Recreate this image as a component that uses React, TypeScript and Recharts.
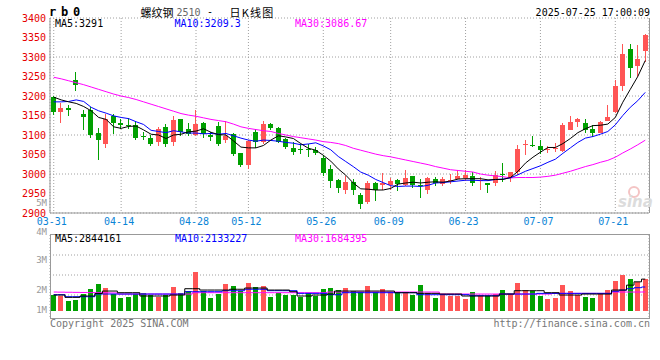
import React from 'react';
import { ComposedChart, Bar, Line, XAxis, YAxis, CartesianGrid } from 'recharts';

const MONO = '"DejaVu Sans Mono", monospace';
const UP = '#ff5555';
const DOWN = '#00a000';
const GRID = '#a0a0a0';

// trading days 2025-03-31 .. 2025-07-25
const dates = [
  '03-31', '04-01', '04-02', '04-03', '04-07', '04-08', '04-09', '04-10', '04-11', '04-14',
  '04-15', '04-16', '04-17', '04-18', '04-21', '04-22', '04-23', '04-24', '04-25', '04-28',
  '04-29', '04-30', '05-06', '05-07', '05-08', '05-09', '05-12', '05-13', '05-14', '05-15',
  '05-16', '05-19', '05-20', '05-21', '05-22', '05-23', '05-26', '05-27', '05-28', '05-29',
  '05-30', '06-03', '06-04', '06-05', '06-06', '06-09', '06-10', '06-11', '06-12', '06-13',
  '06-16', '06-17', '06-18', '06-19', '06-20', '06-23', '06-24', '06-25', '06-26', '06-27',
  '06-30', '07-01', '07-02', '07-03', '07-04', '07-07', '07-08', '07-09', '07-10', '07-11',
  '07-14', '07-15', '07-16', '07-17', '07-18', '07-21', '07-22', '07-23', '07-24', '07-25',
];

const opens = [
  3197, 3158, 3170, 3242, 3155, 3165, 3105, 3076, 3148, 3132,
  3126, 3125, 3098, 3092, 3082, 3120, 3082, 3140, 3115, 3101,
  3130, 3101, 3122, 3088, 3102, 3054, 3023, 3108, 3082, 3127,
  3119, 3089, 3066, 3064, 3065, 3061, 3041, 3013, 2984, 2959,
  2979, 2947, 2928, 2976, 2971, 2973, 2984, 2972, 2994, 2972,
  2960, 2986, 2975, 2983, 2988, 2989, 2994, 2981, 2977, 2977,
  3000, 2992, 3004, 3074, 3074, 3072, 3062, 3065, 3060, 3114,
  3133, 3132, 3116, 3104, 3136, 3159, 3225, 3320, 3276, 3316,
];
const highs = [
  3200, 3182, 3176, 3262, 3165, 3172, 3118, 3155, 3153, 3142,
  3143, 3135, 3108, 3100, 3120, 3127, 3148, 3140, 3132, 3164,
  3134, 3108, 3134, 3137, 3106, 3054, 3088, 3116, 3135, 3131,
  3121, 3093, 3081, 3077, 3077, 3070, 3050, 3022, 2986, 2994,
  2986, 2952, 2983, 2979, 3002, 2991, 2988, 3009, 2994, 2986,
  2993, 2992, 2993, 3001, 3010, 3010, 3004, 2993, 2978, 3008,
  3028, 3006, 3074, 3087, 3098, 3087, 3072, 3079, 3130, 3150,
  3144, 3142, 3125, 3136, 3177, 3242, 3333, 3333, 3331, 3359,
];
const lows = [
  3152, 3132, 3149, 3213, 3113, 3092, 3036, 3067, 3102, 3115,
  3115, 3086, 3086, 3072, 3071, 3069, 3073, 3098, 3097, 3098,
  3093, 3085, 3072, 3080, 3047, 3017, 3013, 3066, 3076, 3113,
  3079, 3064, 3049, 3051, 3044, 3050, 2996, 2965, 2951, 2950,
  2947, 2909, 2922, 2932, 2960, 2960, 2956, 2969, 2963, 2939,
  2949, 2969, 2969, 2975, 2986, 2983, 2969, 2959, 2952, 2969,
  2979, 2979, 2998, 3048, 3068, 3051, 3053, 3057, 3057, 3114,
  3121, 3106, 3095, 3104, 3136, 3157, 3214, 3247, 3250, 3288,
];
const closes = [
  3158, 3170, 3164, 3228, 3145, 3101, 3088, 3140, 3131, 3126,
  3124, 3092, 3094, 3076, 3115, 3076, 3138, 3107, 3102, 3129,
  3103, 3095, 3077, 3098, 3051, 3022, 3085, 3081, 3127, 3118,
  3081, 3070, 3057, 3062, 3062, 3055, 3003, 2981, 2965, 2979,
  2959, 2924, 2976, 2958, 2978, 2981, 2975, 2991, 2971, 2969,
  2990, 2978, 2986, 2985, 2994, 2998, 2977, 2984, 2973, 2997,
  2998, 3004, 3065, 3076, 3071, 3062, 3065, 3067, 3125, 3134,
  3140, 3113, 3106, 3133, 3147, 3226, 3308, 3273, 3295, 3357,
];

const ma5 = [
  3197, 3190, 3185, 3181, 3173, 3162, 3145, 3140, 3121, 3117,
  3122, 3123, 3113, 3102, 3100, 3091, 3100, 3102, 3108, 3110,
  3116, 3107, 3101, 3100, 3085, 3069, 3067, 3067, 3073, 3087,
  3098, 3095, 3091, 3078, 3066, 3061, 3048, 3033, 3013, 2997,
  2977, 2962, 2961, 2959, 2959, 2963, 2974, 2977, 2979, 2977,
  2979, 2980, 2979, 2982, 2987, 2988, 2988, 2988, 2985, 2986,
  2986, 2991, 3007, 3028, 3043, 3056, 3068, 3068, 3078, 3091,
  3106, 3116, 3124, 3125, 3128, 3145, 3184, 3217, 3250, 3291,
];
const ma10 = [
  3185, 3185, 3186, 3190, 3186, 3171, 3162, 3156, 3149, 3145,
  3142, 3134, 3127, 3112, 3109, 3106, 3111, 3108, 3105, 3105,
  3103, 3104, 3102, 3104, 3098, 3092, 3087, 3084, 3087, 3086,
  3084, 3081, 3079, 3075, 3077, 3080, 3072, 3062, 3045, 3032,
  3019, 3005, 2997, 2986, 2978, 2970, 2968, 2969, 2969, 2968,
  2971, 2977, 2978, 2980, 2982, 2984, 2984, 2983, 2983, 2986,
  2987, 2990, 2998, 3007, 3014, 3021, 3030, 3038, 3053, 3067,
  3081, 3092, 3096, 3102, 3109, 3126, 3150, 3171, 3188, 3209.3,
];
const ma30 = [
  3248, 3244, 3239, 3234, 3229, 3223, 3217, 3211, 3205, 3200,
  3196, 3191, 3185, 3179, 3173, 3167, 3161, 3155, 3151, 3148,
  3144, 3140, 3137, 3134, 3128, 3121, 3117, 3114, 3111, 3109,
  3104, 3100, 3096, 3093, 3090, 3087, 3083, 3081, 3078, 3073,
  3066, 3061, 3056, 3051, 3047, 3044, 3040, 3036, 3032, 3028,
  3024, 3019, 3015, 3011, 3009, 3007, 3005, 3000, 2997, 2995,
  2993, 2990, 2991, 2991, 2991, 2992, 2994, 2997, 3002, 3007,
  3013, 3019, 3024, 3030, 3035, 3043, 3054, 3064, 3075, 3086.67,
];

// volume, millions
const volumes = [
  1.41, 1.32, 0.87, 0.96, 1.5, 1.95, 2.4, 2.04, 1.5, 1.17,
  1.23, 1.5, 1.59, 1.38, 1.26, 1.41, 2.13, 1.62, 1.77, 3.48,
  1.8, 1.17, 1.5, 2.43, 2.22, 1.8, 2.52, 2.13, 2.22, 1.26,
  1.56, 1.41, 1.41, 1.2, 1.62, 1.35, 1.95, 2.07, 1.86, 2.04,
  1.77, 1.71, 2.22, 1.71, 1.95, 1.71, 1.62, 1.62, 1.41, 2.32,
  1.56, 1.17, 1.5, 1.32, 1.32, 1.05, 1.68, 1.32, 1.32, 1.5,
  1.86, 1.5, 2.52, 1.86, 1.77, 1.32, 1.05, 1.17, 2.32, 1.77,
  1.42, 1.22, 1.12, 1.52, 1.85, 2.7, 3.25, 2.85, 2.55, 2.87,
];
const volMa5 = [
  1.41, 1.41, 1.2, 1.2, 1.32, 1.32, 1.55, 1.77, 1.77, 1.62,
  1.62, 1.62, 1.32, 1.32, 1.32, 1.32, 1.41, 1.41, 1.98, 1.98,
  1.86, 1.86, 1.86, 1.86, 1.93, 1.93, 2.04, 2.04, 2.04, 1.86,
  1.86, 1.86, 1.71, 1.32, 1.32, 1.41, 1.41, 1.5, 1.77, 1.77,
  1.77, 1.77, 1.77, 1.77, 1.77, 1.77, 1.62, 1.62, 1.62, 1.56,
  1.56, 1.56, 1.5, 1.5, 1.5, 1.32, 1.32, 1.32, 1.32, 1.32,
  1.5, 1.5, 1.8, 1.8, 1.8, 1.8, 1.62, 1.62, 1.41, 1.41,
  1.41, 1.5, 1.5, 1.5, 1.5, 1.86, 1.86, 2.3, 2.6, 2.844,
];
const volMa10 = [
  1.44, 1.44, 1.26, 1.26, 1.26, 1.26, 1.5, 1.5, 1.5, 1.5,
  1.5, 1.5, 1.5, 1.5, 1.5, 1.5, 1.5, 1.5, 1.71, 1.71,
  1.71, 1.71, 1.71, 1.8, 1.8, 1.8, 1.93, 1.93, 1.93, 1.8,
  1.8, 1.8, 1.8, 1.56, 1.56, 1.56, 1.56, 1.44, 1.44, 1.62,
  1.62, 1.62, 1.62, 1.62, 1.62, 1.62, 1.62, 1.62, 1.62, 1.44,
  1.44, 1.44, 1.44, 1.44, 1.44, 1.44, 1.35, 1.35, 1.35, 1.35,
  1.5, 1.5, 1.5, 1.5, 1.5, 1.56, 1.56, 1.56, 1.56, 1.56,
  1.56, 1.56, 1.56, 1.56, 1.56, 1.75, 1.85, 1.98, 2.07, 2.133,
];
const volMa30 = [
  1.68, 1.67, 1.66, 1.65, 1.64, 1.63, 1.62, 1.61, 1.6, 1.5,
  1.5, 1.5, 1.5, 1.5, 1.5, 1.5, 1.5, 1.5, 1.5, 1.62,
  1.62, 1.62, 1.62, 1.62, 1.62, 1.62, 1.62, 1.62, 1.62, 1.62,
  1.62, 1.62, 1.62, 1.62, 1.62, 1.62, 1.62, 1.68, 1.68, 1.68,
  1.68, 1.68, 1.68, 1.68, 1.68, 1.68, 1.68, 1.68, 1.68, 1.68,
  1.68, 1.68, 1.5, 1.5, 1.5, 1.5, 1.5, 1.5, 1.5, 1.5,
  1.5, 1.5, 1.5, 1.5, 1.5, 1.5, 1.5, 1.56, 1.56, 1.56,
  1.56, 1.56, 1.56, 1.56, 1.56, 1.68, 1.68, 1.68, 1.68, 1.684,
];

const dateTicks = ['03-31', '04-14', '04-28', '05-12', '05-26', '06-09', '06-23', '07-07', '07-21'];
const priceTicks = [2900, 2950, 3000, 3050, 3100, 3150, 3200, 3250, 3300, 3350, 3400];
const volumeLabels = ['5M', '4M', '3M', '2M', '1M'];

const priceData = dates.map((date, i) => ({
  date,
  open: opens[i],
  high: highs[i],
  low: lows[i],
  close: closes[i],
  range: [lows[i], highs[i]],
  ma5: ma5[i],
  ma10: ma10[i],
  ma30: ma30[i],
}));

const volumeData = dates.map((date, i) => ({
  date,
  volume: volumes[i],
  up: closes[i] >= opens[i],
  ma5: volMa5[i],
  ma10: volMa10[i],
  ma30: volMa30[i],
}));

function Candle(props: any) {
  const { x, y, width, height, payload } = props;
  if (x == null || !payload) return null;
  const { open, close, high, low } = payload;
  const color = close >= open ? UP : DOWN;
  const top = Math.min(y, y + height);
  const h = Math.abs(height);
  const per = high === low ? 0 : h / (high - low);
  const bodyTop = top + (high - Math.max(open, close)) * per;
  const bodyBot = top + (high - Math.min(open, close)) * per;
  const left = Math.round(x + width / 2 - 2.5);
  return (
    <g shapeRendering="crispEdges">
      <rect x={left + 2} y={top} width={1} height={Math.max(h, 1)} fill={color} />
      <rect x={left} y={bodyTop} width={5} height={Math.max(bodyBot - bodyTop, 1)} fill={color} />
    </g>
  );
}

function VolumeBar(props: any) {
  const { x, y, width, height, payload } = props;
  if (x == null || !payload) return null;
  return (
    <rect
      x={Math.round(x + width / 2 - 2.5)}
      y={y}
      width={5}
      height={height}
      fill={payload.up ? UP : DOWN}
      shapeRendering="crispEdges"
    />
  );
}

function Txt({ x, y, color = '#000', right = false, size = 10, font = MONO, style, children }: any) {
  const pos = right ? { right: 660 - x } : { left: x };
  return (
    <div
      style={{
        position: 'absolute',
        top: y - size / 2,
        ...pos,
        color,
        fontSize: size,
        lineHeight: `${size}px`,
        fontFamily: font,
        whiteSpace: 'nowrap',
        ...style,
      }}
    >
      {children}
    </div>
  );
}

export default function App() {
  const volLabelY = [203.5, 232, 260.7, 290.7, 310.7];
  return (
    <div style={{ position: 'absolute', left: 0, top: 0, width: 660, height: 360, background: '#fff', overflow: 'hidden' }}>
      <div style={{ position: 'absolute', left: 0, top: 0 }}>
        <ComposedChart width={660} height={240} data={priceData} margin={{ top: 18, right: 11, bottom: 0, left: 0 }}>
          <CartesianGrid stroke={GRID} strokeDasharray="1 2" />
          <XAxis
            dataKey="date"
            ticks={dateTicks}
            interval={0}
            height={27}
            tickSize={0}
            tickMargin={5}
            tickLine={false}
            axisLine={{ stroke: '#999' }}
            tick={{ fill: '#0a84d6', fontSize: 10, fontFamily: MONO, dx: -2 }}
          />
          <YAxis
            domain={[2900, 3400]}
            ticks={priceTicks}
            allowDataOverflow
            width={50}
            tickSize={0}
            tickMargin={4}
            tickLine={false}
            axisLine={{ stroke: '#999' }}
            tick={{ fill: '#e60000', fontSize: 10, fontFamily: MONO }}
          />
          <Bar dataKey="range" shape={Candle} barSize={5} isAnimationActive={false} />
          <Line dataKey="ma30" stroke="#ff00ff" strokeWidth={1} dot={false} activeDot={false} isAnimationActive={false} />
          <Line dataKey="ma10" stroke="#0000ff" strokeWidth={1} dot={false} activeDot={false} isAnimationActive={false} />
          <Line dataKey="ma5" stroke="#000000" strokeWidth={1} dot={false} activeDot={false} isAnimationActive={false} />
        </ComposedChart>
      </div>
      <div style={{ position: 'absolute', left: 649, top: 18, width: 1, height: 195, background: '#999' }} />

      <div style={{ position: 'absolute', left: 0, top: 235 }}>
        <ComposedChart width={660} height={83} data={volumeData} margin={{ top: 0, right: 11, bottom: 0, left: 50 }}>
          <CartesianGrid stroke={GRID} strokeDasharray="1 2" horizontalPoints={[20, 40, 60]} />
          <XAxis dataKey="date" ticks={dateTicks} interval={0} height={0} tick={false} tickLine={false} axisLine={false} />
          <YAxis hide domain={[-0.66, 6.82]} allowDataOverflow />
          <Bar dataKey="volume" shape={VolumeBar} barSize={5} isAnimationActive={false} />
          <Line type="step" dataKey="ma30" stroke="#ff00ff" strokeWidth={1} dot={false} activeDot={false} isAnimationActive={false} />
          <Line type="step" dataKey="ma10" stroke="#0000ff" strokeWidth={1} dot={false} activeDot={false} isAnimationActive={false} />
          <Line type="step" dataKey="ma5" stroke="#000000" strokeWidth={1} dot={false} activeDot={false} isAnimationActive={false} />
        </ComposedChart>
      </div>
      <div style={{ position: 'absolute', left: 50, top: 234, width: 600, height: 85, border: '1px solid #999', boxSizing: 'border-box' }} />

      {volumeLabels.map((t, i) => (
        <Txt key={t} x={47} y={volLabelY[i]} right size={9} color="#999">{t}</Txt>
      ))}

      <Txt x={49} y={12} size={12} style={{ fontWeight: 'bold', letterSpacing: 4.8 }}>rb0</Txt>
      <Txt x={140.5} y={12} size={11} font='"Noto Sans CJK SC", sans-serif'>螺纹钢</Txt>
      <Txt x={176.5} y={12.5} color="#666">2510</Txt>
      <Txt x={207} y={12}>-</Txt>
      <Txt x={229.5} y={12} size={11} font='"Noto Sans CJK SC", sans-serif' style={{ letterSpacing: 1.2 }}>日K线图</Txt>
      <Txt x={650} y={12.7} right>2025-07-25 17:00:09</Txt>

      <Txt x={55} y={24}>MA5:3291</Txt>
      <Txt x={174.5} y={24} color="#0000ff">MA10:3209.3</Txt>
      <Txt x={295} y={24} color="#ff00ff">MA30:3086.67</Txt>

      <Txt x={55} y={238.5}>MA5:2844161</Txt>
      <Txt x={175} y={238.5} color="#0000ff">MA10:2133227</Txt>
      <Txt x={295} y={238.5} color="#ff00ff">MA30:1684395</Txt>

      <Txt x={50} y={323.5} color="#777">Copyright 2025 SINA.COM</Txt>
      <Txt x={650} y={323.5} right color="#777">http://finance.sina.com.cn</Txt>

      <div style={{ position: 'absolute', left: 628, top: 186, width: 8, height: 8, borderRadius: '50%', border: '2px solid #f4c4c4' }} />
      <Txt x={618} y={202} size={15} font='"DejaVu Sans", sans-serif' color="#dcdcdc" style={{ fontWeight: 'bold', fontStyle: 'italic' }}>sina</Txt>
    </div>
  );
}
